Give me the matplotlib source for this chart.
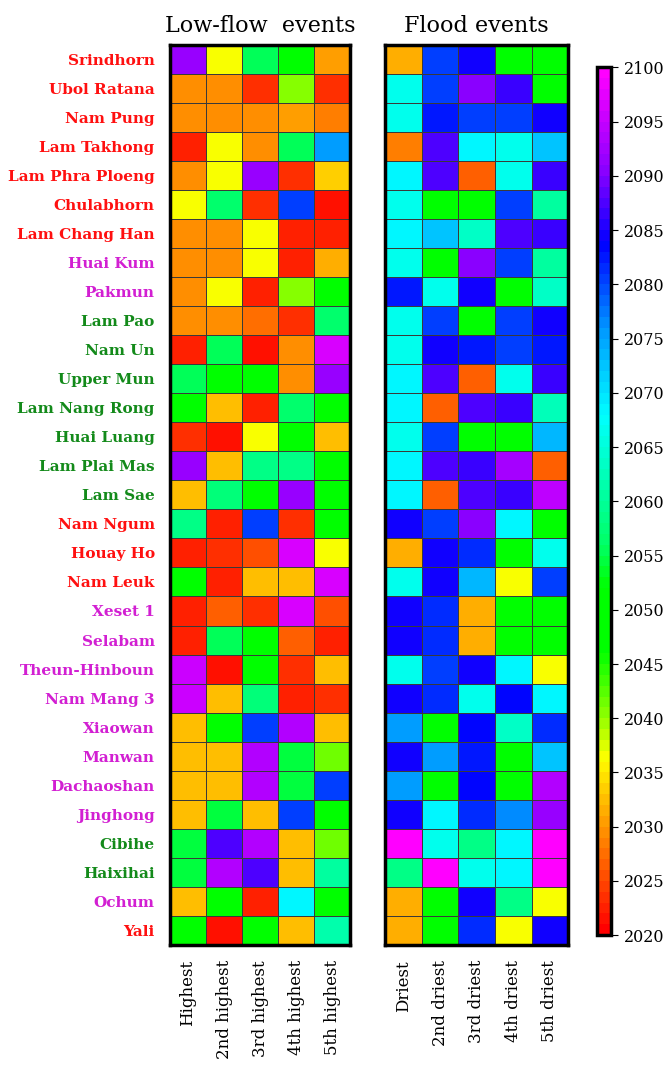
import numpy as np
import matplotlib
matplotlib.use("Agg")
import matplotlib.pyplot as plt
from matplotlib.colors import LinearSegmentedColormap, Normalize

# Reservoirs (top to bottom) and the colour of each name
reservoirs = [
    "Srindhorn", "Ubol Ratana", "Nam Pung", "Lam Takhong", "Lam Phra Ploeng",
    "Chulabhorn", "Lam Chang Han", "Huai Kum", "Pakmun", "Lam Pao", "Nam Un",
    "Upper Mun", "Lam Nang Rong", "Huai Luang", "Lam Plai Mas", "Lam Sae",
    "Nam Ngum", "Houay Ho", "Nam Leuk", "Xeset 1", "Selabam", "Theun-Hinboun",
    "Nam Mang 3", "Xiaowan", "Manwan", "Dachaoshan", "Jinghong", "Cibihe",
    "Haixihai", "Ochum", "Yali",
]
label_groups = (["r"] * 7 + ["m"] * 2 + ["g"] * 7 + ["r"] * 3 + ["m"] * 8
                + ["g"] * 2 + ["m"] + ["r"])

lowflow_cols = ["Highest", "2nd highest", "3rd highest", "4th highest", "5th highest"]
flood_cols = ["Driest", "2nd driest", "3rd driest", "4th driest", "5th driest"]

# Year of occurrence of the five most extreme low-flow events
lowflow_years = [
    [2091, 2036, 2055, 2050, 2030],
    [2029, 2029, 2023, 2040, 2023],
    [2029, 2029, 2029, 2030, 2028],
    [2022, 2036, 2029, 2055, 2075],
    [2029, 2036, 2091, 2023, 2033],
    [2036, 2056, 2023, 2080, 2021],
    [2029, 2029, 2036, 2022, 2022],
    [2029, 2029, 2036, 2022, 2031],
    [2029, 2036, 2022, 2040, 2049],
    [2029, 2029, 2027, 2023, 2056],
    [2022, 2055, 2021, 2029, 2096],
    [2055, 2050, 2050, 2029, 2091],
    [2050, 2032, 2022, 2056, 2050],
    [2023, 2021, 2036, 2049, 2032],
    [2091, 2032, 2058, 2058, 2050],
    [2032, 2057, 2050, 2091, 2050],
    [2058, 2022, 2080, 2023, 2050],
    [2022, 2023, 2025, 2096, 2036],
    [2049, 2022, 2032, 2032, 2096],
    [2022, 2026, 2023, 2096, 2025],
    [2022, 2055, 2050, 2026, 2022],
    [2095, 2021, 2050, 2023, 2032],
    [2095, 2032, 2057, 2022, 2023],
    [2032, 2050, 2080, 2093, 2032],
    [2032, 2032, 2093, 2054, 2041],
    [2032, 2032, 2093, 2054, 2080],
    [2032, 2054, 2032, 2080, 2050],
    [2054, 2087, 2093, 2032, 2041],
    [2054, 2093, 2087, 2032, 2060],
    [2032, 2050, 2022, 2068, 2050],
    [2050, 2021, 2050, 2032, 2061],
]

# Year of occurrence of the five most extreme flood events
flood_years = [
    [2031, 2080, 2084, 2050, 2050],
    [2066, 2080, 2090, 2086, 2050],
    [2066, 2082, 2080, 2080, 2084],
    [2028, 2087, 2068, 2066, 2072],
    [2068, 2087, 2026, 2066, 2086],
    [2066, 2050, 2050, 2080, 2060],
    [2068, 2072, 2063, 2087, 2086],
    [2066, 2050, 2090, 2080, 2060],
    [2082, 2066, 2084, 2050, 2063],
    [2066, 2080, 2050, 2080, 2084],
    [2066, 2084, 2082, 2080, 2082],
    [2068, 2087, 2026, 2066, 2086],
    [2068, 2026, 2087, 2086, 2062],
    [2066, 2080, 2050, 2050, 2073],
    [2068, 2087, 2086, 2092, 2026],
    [2068, 2026, 2087, 2086, 2094],
    [2084, 2080, 2090, 2068, 2050],
    [2031, 2084, 2081, 2050, 2066],
    [2066, 2084, 2073, 2036, 2080],
    [2084, 2081, 2031, 2050, 2050],
    [2084, 2081, 2031, 2050, 2050],
    [2066, 2080, 2084, 2068, 2036],
    [2084, 2081, 2066, 2083, 2068],
    [2075, 2050, 2083, 2063, 2081],
    [2084, 2075, 2082, 2051, 2072],
    [2075, 2050, 2083, 2051, 2093],
    [2084, 2068, 2081, 2076, 2091],
    [2100, 2066, 2058, 2068, 2100],
    [2058, 2100, 2066, 2068, 2099],
    [2031, 2050, 2084, 2058, 2036],
    [2031, 2050, 2081, 2036, 2084],
]

year_min, year_max = 2020, 2100
cbar_ticks = list(range(2020, 2101, 5))

# Rainbow colour scale, red (early) through green and blue to magenta (late)
anchors = [
    (2020, (1.00, 0.00, 0.00)),
    (2029, (1.00, 0.55, 0.00)),
    (2033, (1.00, 0.80, 0.00)),
    (2036, (1.00, 1.00, 0.00)),
    (2040, (0.55, 1.00, 0.00)),
    (2046, (0.00, 1.00, 0.00)),
    (2052, (0.00, 1.00, 0.00)),
    (2056, (0.00, 1.00, 0.40)),
    (2060, (0.00, 1.00, 0.60)),
    (2068, (0.00, 1.00, 1.00)),
    (2076, (0.00, 0.60, 1.00)),
    (2084, (0.00, 0.00, 1.00)),
    (2091, (0.55, 0.00, 1.00)),
    (2100, (1.00, 0.00, 1.00)),
]
cmap = LinearSegmentedColormap.from_list(
    "years",
    [((y - year_min) / (year_max - year_min), c) for y, c in anchors],
    N=80,
)
norm = Normalize(vmin=year_min, vmax=year_max)

name_colors = {"r": "#ff1010", "m": "#d21fd2", "g": "#138a1a"}
serif = "DejaVu Serif"

fig = plt.figure(figsize=(6.68, 10.70), dpi=100)
ax_low = fig.add_axes([0.2545, 0.117, 0.2700, 0.841])
ax_fld = fig.add_axes([0.5765, 0.117, 0.2740, 0.841])
ax_cb = fig.add_axes([0.893, 0.126, 0.022, 0.811])


def draw_panel(ax, data, cols, title):
    arr = np.array(data, dtype=float)
    mesh = ax.pcolormesh(arr, cmap=cmap, norm=norm,
                         edgecolors="#3a3a3a", linewidth=0.6)
    ax.set_xlim(0, arr.shape[1])
    ax.set_ylim(arr.shape[0], 0)
    ax.set_xticks(np.arange(arr.shape[1]) + 0.5)
    ax.set_xticklabels(cols, rotation=90, family=serif, fontsize=12)
    ax.tick_params(axis="x", length=0, pad=11)
    for sp in ax.spines.values():
        sp.set_linewidth(2.5)
        sp.set_color("black")
    ax.set_title(title, family=serif, fontsize=16, pad=9)
    return mesh


mesh = draw_panel(ax_low, lowflow_years, lowflow_cols, "Low-flow  events")
draw_panel(ax_fld, flood_years, flood_cols, "Flood events")

ax_low.set_yticks(np.arange(len(reservoirs)) + 0.5)
ax_low.set_yticklabels(reservoirs, family=serif, fontweight="bold", fontsize=11)
ax_low.tick_params(axis="y", length=0, pad=11)
for lbl, grp in zip(ax_low.get_yticklabels(), label_groups):
    lbl.set_color(name_colors[grp])
ax_fld.set_yticks([])

cb = fig.colorbar(mesh, cax=ax_cb, ticks=cbar_ticks)
cb.outline.set_linewidth(2.5)
cb.ax.tick_params(length=5, width=0.8, labelsize=11.5, pad=4)
for t in cb.ax.get_yticklabels():
    t.set_family(serif)

fig.savefig("out.png", dpi=100, facecolor="white")
